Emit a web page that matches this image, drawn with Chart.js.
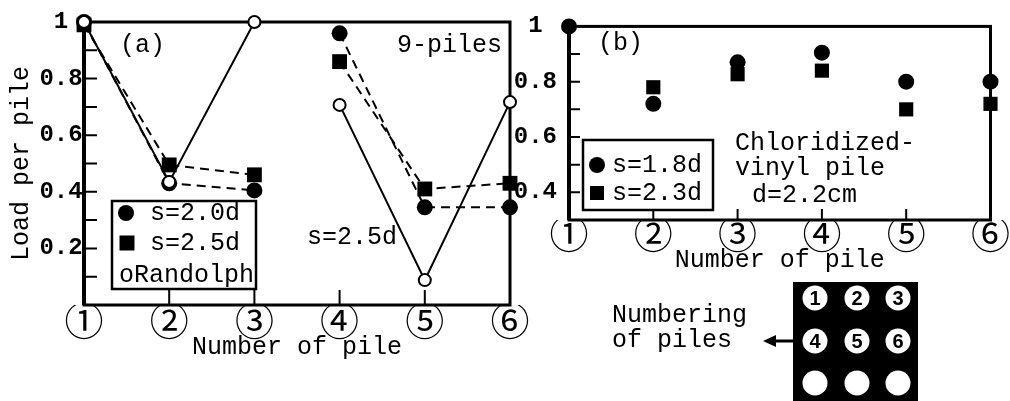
<!DOCTYPE html>
<html>
<head>
<meta charset="utf-8">
<script src="https://cdn.jsdelivr.net/npm/chart.js@4/dist/chart.umd.min.js"></script>
<style>
  html, body { margin: 0; padding: 0; background: #fff; }
  #wrap { position: relative; width: 1010px; height: 401px; overflow: hidden; background: #fff; }
  #wrap canvas { position: absolute; left: 0; top: 0; }
</style>
</head>
<body>
<div id="wrap">
  <canvas id="chartA" width="1010" height="401"></canvas>
  <canvas id="chartB" width="1010" height="401"></canvas>
</div>
<script>
// pile numbers (x axis)
const piles = ['①', '②', '③', '④', '⑤', '⑥'];

// (a) 9-piles, load per pile
const loadA_s20 = [1.0, 0.43, 0.405, 0.96, 0.345, 0.345];
const loadA_s25 = [0.99, 0.495, 0.46, 0.86, 0.41, 0.43];
const loadA_randolph = [1.0, 0.435, 1.0, 0.707, 0.088, 0.717];

// (b) chloridized-vinyl pile, d=2.2cm
const loadB_s18 = [1.0, 0.72, 0.87, 0.905, 0.80, 0.80];
const loadB_s23 = [null, 0.78, 0.827, 0.84, 0.70, 0.72];

const MONO = 'Liberation Mono';

// label only 0.2, 0.4 ... and "1"
function loadLabel(v) {
  const r = Math.round(v * 10);
  if (r === 10) return '1';
  if (r > 0 && r % 2 === 0) return (r / 10).toFixed(1);
  return '';
}

// no line between pile 3 and pile 4
const gapSeg = {
  borderColor: ctx => ctx.p0DataIndex === 2 ? 'rgba(0,0,0,0)' : undefined
};

// box round the plot + ticks pointing inward
const frame = {
  id: 'frame',
  beforeDatasetsDraw(chart, args, opts) {
    const { ctx, chartArea: a } = chart;
    const x = chart.scales.x, y = chart.scales.y;
    ctx.save();
    ctx.strokeStyle = '#000';
    ctx.lineWidth = 3;
    ctx.strokeRect(a.left, a.top, a.right - a.left, a.bottom - a.top);
    ctx.lineWidth = 4;
    ctx.beginPath();
    ctx.moveTo(a.left, a.top);
    ctx.lineTo(a.left, a.bottom);
    ctx.stroke();
    ctx.lineWidth = 2;
    ctx.beginPath();
    y.ticks.forEach(t => {
      const p = y.getPixelForValue(t.value);
      if (p < a.top + 2 || p > a.bottom - 2) return;
      ctx.moveTo(a.left, p);
      ctx.lineTo(a.left + opts.yLen, p);
    });
    for (let i = 1; i < piles.length - 1; i++) {
      const p = x.getPixelForValue(i);
      ctx.moveTo(p, a.bottom);
      ctx.lineTo(p, a.bottom - opts.xLen);
    }
    ctx.stroke();
    ctx.restore();
  }
};

// free text, legend boxes and the pile layout sketch
const notes = {
  id: 'notes',
  afterDraw(chart, args, opts) {
    const ctx = chart.ctx;
    ctx.save();
    ctx.fillStyle = '#000';
    ctx.strokeStyle = '#000';
    ctx.textBaseline = 'middle';
    ctx.textAlign = 'left';
    (opts.boxes || []).forEach(b => {
      ctx.fillStyle = '#fff';
      ctx.fillRect(b[0], b[1], b[2], b[3]);
      ctx.lineWidth = 2.5;
      ctx.strokeRect(b[0], b[1], b[2], b[3]);
    });
    ctx.fillStyle = '#000';
    (opts.marks || []).forEach(m => {
      ctx.beginPath();
      if (m.shape === 'circle') {
        ctx.arc(m.x, m.y, m.r, 0, Math.PI * 2);
        ctx.fill();
      } else {
        ctx.fillRect(m.x - m.r, m.y - m.r, m.r * 2, m.r * 2);
      }
    });
    ctx.font = '25px "' + MONO + '"';
    (opts.texts || []).forEach(t => ctx.fillText(t[0], t[1], t[2]));
    if (opts.layout) {
      const L = opts.layout;
      // arrow
      ctx.lineWidth = 3;
      ctx.beginPath();
      ctx.moveTo(L.x, 341);
      ctx.lineTo(L.x - 20, 341);
      ctx.stroke();
      ctx.beginPath();
      ctx.moveTo(L.x - 30, 341);
      ctx.lineTo(L.x - 17, 335);
      ctx.lineTo(L.x - 17, 347);
      ctx.closePath();
      ctx.fill();
      // black plate with 3x3 piles
      ctx.fillRect(L.x, L.y, 125, 130);
      const cx = [815, 857, 898], cy = [298, 341, 383];
      ctx.font = 'bold 20px "Liberation Sans"';
      ctx.textAlign = 'center';
      let n = 1;
      cy.forEach(yy => cx.forEach(xx => {
        ctx.fillStyle = '#fff';
        ctx.beginPath();
        ctx.arc(xx, yy, 12.5, 0, Math.PI * 2);
        ctx.fill();
        if (n <= 6) {
          ctx.fillStyle = '#000';
          ctx.fillText(String(n), xx, yy + 1);
        }
        n++;
      }));
    }
    ctx.restore();
  }
};

function xScale(lineH, height) {
  return {
    type: 'category',
    offset: false,
    grid: { display: false, drawTicks: false },
    border: { display: false },
    ticks: {
      color: '#000', padding: 0, autoSkip: false, maxRotation: 0,
      font: { family: 'Noto Sans CJK JP', size: 39, lineHeight: lineH }
    },
    title: {
      display: true, text: 'Number of pile', color: '#000', padding: 0,
      font: { family: MONO, size: 25 }
    },
    afterFit: s => { s.height = height; }
  };
}

function yScale(min, pad, width, title) {
  return {
    min: min, max: 1,
    grid: { display: false, drawTicks: false },
    border: { display: false },
    ticks: {
      stepSize: 0.1, autoSkip: false, callback: loadLabel, color: '#000',
      padding: pad, crossAlign: 'center',
      font: { family: MONO, size: 24, weight: 'bold' }
    },
    title: {
      display: !!title, text: title || '', color: '#000', padding: { top: 6 },
      font: { family: MONO, size: 25 }
    },
    afterFit: s => { s.width = width; }
  };
}

new Chart(document.getElementById('chartA'), {
  type: 'line',
  data: {
    labels: piles,
    datasets: [
      {
        label: 'Randolph', data: loadA_randolph, segment: gapSeg,
        borderColor: '#000', borderWidth: 2, tension: 0, clip: false,
        pointStyle: 'circle', pointRadius: 6, pointBorderWidth: 2,
        pointBackgroundColor: '#fff', pointBorderColor: '#000'
      },
      {
        label: 's=2.0d', data: loadA_s20, segment: gapSeg,
        borderColor: '#000', borderWidth: 2, borderDash: [9, 6], tension: 0, clip: false,
        pointStyle: 'circle', pointRadius: 8, pointBorderWidth: 0,
        pointBackgroundColor: '#000', pointBorderColor: '#000'
      },
      {
        label: 's=2.5d', data: loadA_s25, segment: gapSeg,
        borderColor: '#000', borderWidth: 2, borderDash: [9, 6], tension: 0, clip: false,
        pointStyle: 'rect', pointRadius: 10.5, pointBorderWidth: 0,
        pointBackgroundColor: '#000', pointBorderColor: '#000'
      }
    ]
  },
  options: {
    responsive: false,
    animation: false,
    layout: { padding: { left: 0, right: 500, top: 22, bottom: 39 } },
    plugins: {
      legend: { display: false },
      tooltip: { enabled: false },
      frame: { yLen: 13, xLen: 15 },
      notes: {
        boxes: [[112, 201, 144, 88]],
        marks: [
          { shape: 'circle', x: 126, y: 213, r: 8 },
          { shape: 'rect', x: 127, y: 243, r: 7.5 }
        ],
        texts: [
          ['(a)', 120, 45], ['9-piles', 397, 45], ['s=2.5d', 307, 237],
          ['s=2.0d', 150, 213], ['s=2.5d', 150, 243], ['oRandolph', 119, 275]
        ]
      }
    },
    scales: {
      x: xScale(30 / 39, 57),
      y: yScale(0, 1.4, 84, 'Load per pile')
    }
  },
  plugins: [frame, notes]
});

new Chart(document.getElementById('chartB'), {
  type: 'line',
  data: {
    labels: piles,
    datasets: [
      {
        label: 's=1.8d', data: loadB_s18, showLine: false, clip: false,
        pointStyle: 'circle', pointRadius: 8, pointBorderWidth: 0,
        pointBackgroundColor: '#000', pointBorderColor: '#000'
      },
      {
        label: 's=2.3d', data: loadB_s23, showLine: false, clip: false,
        pointStyle: 'rect', pointRadius: 10, pointBorderWidth: 0,
        pointBackgroundColor: '#000', pointBorderColor: '#000'
      }
    ]
  },
  options: {
    responsive: false,
    animation: false,
    layout: { padding: { left: 500, right: 15, top: 23, bottom: 126 } },
    plugins: {
      legend: { display: false },
      tooltip: { enabled: false },
      frame: { yLen: 11, xLen: 11 },
      notes: {
        boxes: [[583, 140, 130, 70]],
        marks: [
          { shape: 'circle', x: 597, y: 165, r: 8 },
          { shape: 'rect', x: 597, y: 193, r: 7 }
        ],
        texts: [
          ['(b)', 598, 43],
          ['s=1.8d', 612, 165], ['s=2.3d', 612, 193],
          ['Chloridized-', 735, 143], ['vinyl pile', 735, 168], ['d=2.2cm', 752, 195],
          ['Numbering', 612, 315], ['of piles', 612, 340]
        ],
        layout: { x: 793, y: 282 }
      }
    },
    scales: {
      x: xScale(26 / 39, 55),
      y: yScale(0.3, 12, 69, '')
    }
  },
  plugins: [frame, notes]
});
</script>
</body>
</html>
